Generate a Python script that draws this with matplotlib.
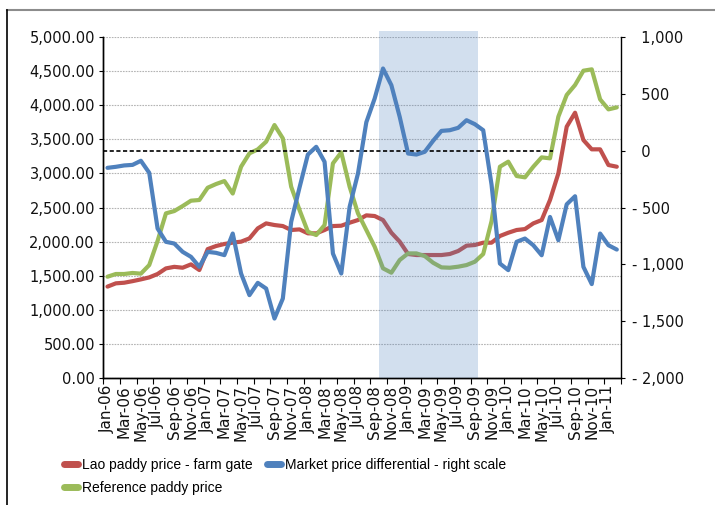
import numpy as np
import pandas as pd
import matplotlib
matplotlib.use('Agg')
import matplotlib.pyplot as plt
from matplotlib.lines import Line2D
from matplotlib.ticker import FixedLocator, FuncFormatter

# Monthly series, Jan-06 .. Feb-11
months = pd.date_range('2006-01-01', '2011-02-01', freq='MS').strftime('%b-%y').tolist()

lao_farm_gate = [
    1340, 1388, 1397, 1420, 1446, 1475, 1525, 1607, 1630, 1617, 1666, 1583,
    1890, 1935, 1965, 1985, 1999, 2047, 2194, 2267, 2243, 2228, 2170, 2179,
    2121, 2121, 2170, 2228, 2233, 2277, 2316, 2385, 2375, 2316, 2130, 1999,
    1818, 1803, 1803, 1803, 1803, 1818, 1862, 1940, 1950, 1984, 1984, 2082,
    2130, 2170, 2184, 2267, 2316, 2610, 3000, 3685, 3890, 3489, 3353, 3353,
    3123, 3098,
]

reference_paddy = [
    1485, 1525, 1525, 1540, 1530, 1656, 2010, 2414, 2448, 2521, 2600, 2610,
    2790, 2844, 2888, 2705, 3098, 3294, 3352, 3465, 3709, 3514, 2805, 2463,
    2145, 2096, 2243, 3147, 3309, 2805, 2414, 2170, 1925, 1608, 1544, 1730,
    1827, 1827, 1788, 1690, 1622, 1617, 1632, 1656, 1705, 1818, 2300, 3098,
    3172, 2962, 2942, 3098, 3235, 3221, 3832, 4150, 4296, 4506, 4526, 4086,
    3939, 3968,
]

price_differential = [
    -151, -142, -130, -125, -89, -195, -685, -802, -817, -890, -934, -1022,
    -890, -899, -919, -729, -1081, -1271, -1163, -1213, -1477, -1301, -626, -324,
    -34, 34, -98, -905, -1081, -494, -201, 250, 459, 723, 576, 297,
    -25, -34, -10, 87, 174, 180, 201, 268, 233, 180, -300, -993,
    -1051, -802, -773, -832, -920, -583, -788, -472, -401, -1022, -1174, -729,
    -832, -870,
]

# shaded period (Oct-08 .. Sep-09), in month index units
shade_start, shade_end = 32.5, 44.35
zero_line_end = 53.3

RED = '#C0504D'
GREEN = '#9BBB59'
BLUE = '#4F81BD'

x = np.arange(len(months))

fig = plt.figure(figsize=(7.15, 5.05), dpi=100)
ax = fig.add_axes([0.1445, 0.2515, 0.7240, 0.6752])
ax2 = ax.twinx()

ax.set_zorder(1)
ax2.set_zorder(2)
ax.patch.set_visible(False)

# left scale
ax.plot(x, lao_farm_gate, color=RED, lw=3, solid_capstyle='round', zorder=3)
ax.plot(x, reference_paddy, color=GREEN, lw=3, solid_capstyle='round', zorder=3)
ax.axvspan(shade_start, shade_end, ymin=0, ymax=1.018, color=BLUE, alpha=0.25,
           lw=0, zorder=4, clip_on=False)

# right scale
ax2.hlines(0, -0.5, zero_line_end, colors='black', linestyles=(0, (2.5, 1.5)), lw=1.2)
ax2.plot(x, price_differential, color=BLUE, lw=3, solid_capstyle='round')

ax.set_xlim(-0.5, len(months) - 0.5)
ax.set_ylim(0, 5000)
ax2.set_ylim(-2000, 1000)

ax.yaxis.set_major_locator(FixedLocator(np.arange(0, 5001, 500)))
ax.yaxis.set_major_formatter(FuncFormatter(lambda v, p: f'{v:,.2f}'))
ax.grid(axis='y', color='#b4b4b4', linestyle=(0, (1.5, 1)), lw=0.8)
ax.set_axisbelow(True)


def right_fmt(v, p):
    if v < 0:
        return f'- {abs(v):,.0f}'
    return f'  {v:,.0f}'


ax2.yaxis.set_major_locator(FixedLocator(np.arange(-2000, 1001, 500)))
ax2.yaxis.set_major_formatter(FuncFormatter(right_fmt))

# labels every other month, tick marks on category boundaries
ax.set_xticks(x[::2])
ax.set_xticklabels(months[::2], rotation=90)
ax.set_xticks(np.arange(-0.5, len(months), 2), minor=True)
ax.tick_params(axis='x', which='major', length=0, pad=5)
ax.tick_params(axis='x', which='minor', length=4, width=0.8, direction='out')
ax.tick_params(axis='y', length=3, width=0.8, pad=3)
ax2.tick_params(axis='y', length=3, width=0.8, pad=5)

for lab in ax.get_xticklabels():
    lab.set_fontsize(11)
    lab.set_color('#111111')
for lab in ax.get_yticklabels() + ax2.get_yticklabels():
    lab.set_fontsize(10.5)
    lab.set_color('#111111')

for a in (ax, ax2):
    a.spines['top'].set_visible(False)
    for s in ('left', 'right', 'bottom'):
        a.spines[s].set_linewidth(1.0)
ax.spines['right'].set_visible(False)

handles = [
    Line2D([], [], color=RED, lw=5, solid_capstyle='round'),
    Line2D([], [], color=GREEN, lw=5, solid_capstyle='round'),
    Line2D([], [], color=BLUE, lw=5, solid_capstyle='round'),
]
labels = ['Lao paddy price - farm gate', 'Reference paddy price',
          'Market price differential - right scale']
fig.legend(handles, labels, ncol=2, loc='upper left', bbox_to_anchor=(0.09, 0.094),
           frameon=False, handlelength=1.0, handletextpad=0.3, columnspacing=1.0,
           labelspacing=0.7, borderpad=0, borderaxespad=0,
           prop={'family': 'Liberation Sans', 'size': 10})

# outer frame lines
fig.add_artist(Line2D([7 / 715, 1], [1 - 10 / 505] * 2, transform=fig.transFigure,
                      color='#8c8c8c', lw=1.5))
fig.add_artist(Line2D([7 / 715] * 2, [0, 1 - 10 / 505], transform=fig.transFigure,
                      color='black', lw=1.2))

fig.savefig('out.png', dpi=100)
